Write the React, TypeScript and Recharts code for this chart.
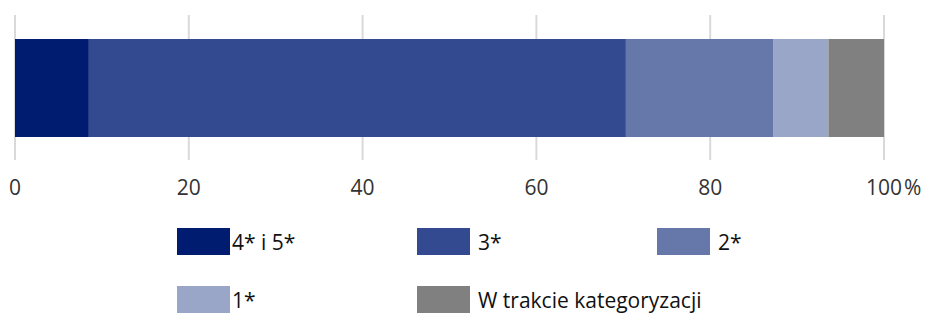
import { BarChart, Bar, XAxis, YAxis, CartesianGrid, Legend } from "recharts";

const categories = ["Hotele"];
const seriesNames = ["4* i 5*", "3*", "2*", "1*", "W trakcie kategoryzacji"];
const seriesKeys = ["s45", "s3", "s2", "s1", "sw"];
const seriesValues = [8.5, 61.8, 17.0, 6.3, 6.4];
const seriesColors = ["#001c71", "#334a91", "#6677aa", "#99a6c7", "#808080"];
const xTicks = [0, 20, 40, 60, 80, 100];

const data = categories.map((name) => {
  const row: Record<string, string | number> = { name };
  seriesKeys.forEach((k, i) => {
    row[k] = seriesValues[i];
  });
  return row;
});

const FONT = "'Open Sans', sans-serif";

function XTick(props: any) {
  const { x, y, payload } = props;
  const v = payload.value;
  return (
    <g>
      <text x={x} y={y} dy="0.71em" textAnchor="middle" fontSize={21} fontFamily={FONT} fill="#333">
        {v}
      </text>
      {v === 100 && (
        <text x={x + 20} y={y} dy="0.71em" textAnchor="start" fontSize={21} fontFamily={FONT} fill="#333">
          %
        </text>
      )}
    </g>
  );
}

function LegendBox() {
  return (
    <div
      style={{
        display: "grid",
        gridTemplateColumns: "240px 240px 240px",
        rowGap: 31,
        paddingLeft: 177,
        fontFamily: FONT,
        fontSize: 21,
        color: "#111",
      }}
    >
      {seriesNames.map((n, i) => (
        <div key={n} style={{ display: "flex", alignItems: "center", height: 27 }}>
          <div style={{ width: 53, height: 27, flexShrink: 0, background: seriesColors[i] }} />
          <span style={{ marginLeft: i % 3 === 0 ? 2 : 8, whiteSpace: "nowrap" }}>{n}</span>
        </div>
      ))}
    </div>
  );
}

export default function App() {
  return (
    <div style={{ position: "absolute", left: 0, top: 0, width: 925, height: 314, background: "#fff" }}>
      <BarChart
        width={925}
        height={314}
        data={data}
        layout="vertical"
        margin={{ top: 15, right: 41, left: 15, bottom: 124 }}
      >
        <CartesianGrid horizontal={false} stroke="#d9d9d9" strokeWidth={2} />
        <XAxis
          type="number"
          domain={[0, 100]}
          ticks={xTicks}
          axisLine={false}
          tickLine={false}
          tickMargin={14}
          height={30}
          tick={<XTick />}
          interval={0}
        />
        <YAxis
          type="category"
          dataKey="name"
          width={0}
          tick={false}
          tickLine={false}
          axisLine={{ stroke: "#000", strokeWidth: 1.5 }}
        />
        <Legend
          layout="horizontal"
          verticalAlign="middle"
          content={<LegendBox />}
          wrapperStyle={{ left: 0, top: 228, width: 925 }}
        />
        {seriesKeys.map((k, i) => (
          <Bar
            key={k}
            dataKey={k}
            name={seriesNames[i]}
            stackId="a"
            fill={seriesColors[i]}
            barSize={98}
            isAnimationActive={false}
          />
        ))}
      </BarChart>
    </div>
  );
}
